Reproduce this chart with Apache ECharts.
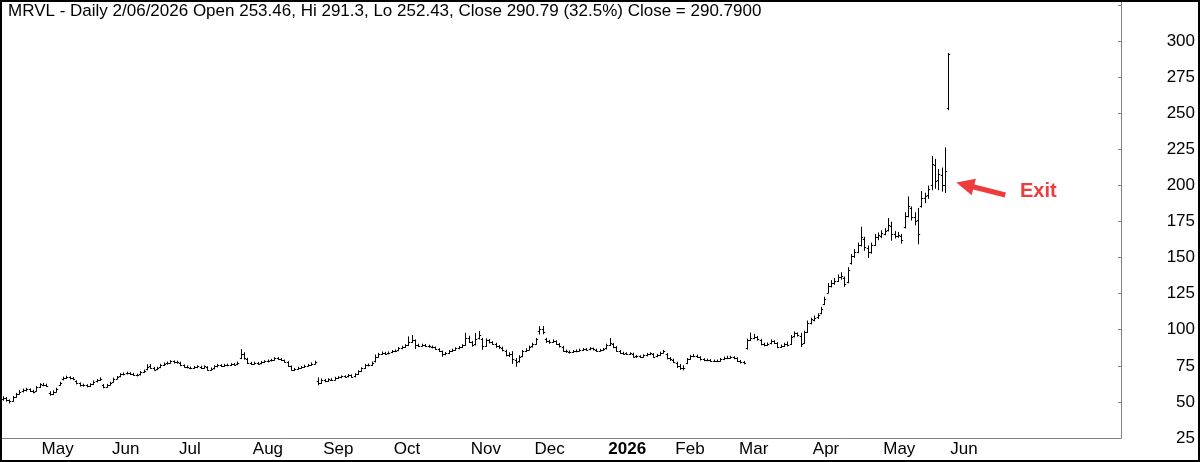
<!DOCTYPE html>
<html><head><meta charset="utf-8">
<script src="https://cdn.jsdelivr.net/npm/echarts@6/dist/echarts.min.js"></script>
<style>html,body{margin:0;padding:0;background:#fff}#c{width:1200px;height:462px}</style>
</head><body><div id="c"></div>
<script>
// Daily bars: [open, high, low, close]
const apr25 = [[52.0,53.6,51.2,52.8],[52.6,53.0,50.6,51.2],[51.0,51.4,49.2,50.4],[50.8,53.8,50.5,53.4],[53.6,55.9,53.2,55.4],[55.8,57.8,55.5,57.2],[57.4,58.9,56.9,58.3],[58.0,59.4,57.6,58.7],[58.6,59.0,57.2,57.8],[57.5,58.1,56.3,57.0],[57.8,60.6,57.5,60.2]];
const may25 = [[60.4,62.6,60.0,62.1],[62.0,62.8,61.2,61.8],[61.9,62.3,60.8,61.3],[56.5,57.0,54.6,55.4],[55.6,57.6,55.2,57.1],[57.2,59.5,56.9,59.1],[62.0,63.6,61.6,63.2],[65.8,67.2,65.3,66.6],[66.8,67.8,66.2,67.1],[67.0,67.4,65.9,66.4],[66.3,66.8,65.4,65.8],[64.2,64.6,62.5,63.0],[62.9,63.2,61.0,61.5],[61.4,62.3,60.9,61.7],[61.6,61.9,60.4,60.9],[61.0,62.6,60.7,62.2],[62.4,64.5,62.0,64.1],[64.2,65.6,63.8,65.2],[65.3,66.7,64.9,66.1],[61.8,62.0,59.8,60.4],[60.6,62.1,60.2,61.7]];
const jun25 = [[62.0,63.6,61.7,63.2],[64.0,66.5,63.7,66.1],[66.2,67.6,65.9,67.2],[67.8,69.6,67.4,69.2],[69.2,70.1,68.7,69.6],[69.7,70.6,69.3,70.1],[70.0,70.3,69.0,69.4],[69.5,69.8,68.5,68.9],[68.9,69.2,68.0,68.6],[69.0,71.0,68.7,70.6],[70.8,72.0,70.4,71.6],[72.5,75.8,72.2,74.3],[74.6,75.9,73.3,73.8],[73.5,73.9,72.0,72.4],[72.6,74.0,72.3,73.6],[74.0,76.0,73.7,75.6],[75.7,77.0,75.3,76.6],[76.7,77.6,76.2,77.1],[77.2,78.6,76.9,78.1],[78.0,78.4,77.0,77.4]];
const jul25 = [[77.3,78.2,76.8,77.6],[77.2,77.5,75.1,75.4],[75.3,75.6,74.1,74.4],[74.5,74.9,73.6,73.9],[73.8,74.1,73.0,73.4],[73.5,74.5,73.2,74.1],[74.0,75.0,73.7,74.6],[74.4,74.7,73.1,73.4],[73.6,75.0,73.3,74.6],[74.2,74.4,72.0,72.3],[72.4,73.5,72.1,73.1],[73.2,75.0,72.9,74.6],[74.7,76.0,74.3,75.6],[75.5,75.8,74.6,74.9],[75.0,76.0,74.7,75.6],[75.6,76.1,75.0,75.4],[75.5,76.5,75.2,76.1],[76.2,76.6,75.5,75.9],[76.1,77.6,75.8,77.2],[80.5,86.2,80.0,83.0],[83.0,84.0,79.6,80.6],[79.8,80.2,76.5,77.1]];
const aug25 = [[77.0,77.4,76.0,76.4],[76.5,77.5,76.2,77.1],[77.0,77.3,76.1,76.5],[76.7,78.0,76.4,77.6],[77.6,78.5,77.2,78.1],[78.0,79.0,77.7,78.6],[78.7,79.5,78.3,79.1],[79.2,80.6,78.9,80.2],[80.1,80.7,79.5,79.9],[79.8,80.0,78.6,78.9],[78.8,79.0,77.6,77.9],[77.5,77.8,74.6,75.0],[74.6,74.9,72.0,72.4],[72.3,73.2,71.8,72.7],[72.8,74.0,72.5,73.6],[73.7,74.5,73.3,74.1],[74.2,75.4,73.9,75.0],[75.1,76.0,74.8,75.6],[75.7,77.0,75.4,76.6],[76.6,78.2,76.3,77.8],[64.8,66.6,61.8,62.9]];
const sep25 = [[63.2,65.9,62.8,65.5],[65.3,65.6,64.0,64.4],[64.6,66.0,64.3,65.6],[65.4,66.1,64.9,65.3],[65.5,67.0,65.2,66.6],[66.6,67.5,66.2,67.1],[67.0,68.0,66.7,67.6],[67.7,68.1,67.0,67.4],[67.6,69.0,67.3,68.6],[68.4,68.7,67.1,67.4],[67.6,69.5,67.3,69.1],[69.3,71.5,69.0,71.1],[71.3,73.6,71.0,73.2],[73.4,76.0,73.1,75.6],[75.7,76.2,74.9,75.4],[75.6,77.6,75.3,77.2],[78.0,82.5,77.7,81.2],[81.4,83.6,81.0,83.1],[83.2,84.6,82.8,84.1],[84.0,84.3,82.9,83.4],[83.6,84.6,83.3,84.2]];
const oct25 = [[84.5,85.6,84.1,85.2],[85.2,86.0,84.8,85.6],[85.8,87.6,85.5,87.2],[87.2,88.5,86.8,88.1],[88.2,89.6,87.8,89.2],[89.4,95.0,89.0,91.4],[91.6,96.0,91.2,93.2],[92.6,92.9,86.9,89.3],[89.4,89.9,88.4,88.8],[88.9,90.0,88.6,89.6],[89.5,89.8,88.4,88.9],[88.9,89.3,87.9,88.4],[88.3,88.7,87.4,87.8],[87.7,88.0,86.4,86.8],[86.6,86.9,84.9,85.3],[85.0,85.3,81.6,83.0],[83.1,84.2,82.7,83.7],[83.8,85.6,83.5,85.2],[85.3,86.5,84.9,86.1],[86.2,87.5,85.9,87.1],[87.2,88.4,86.8,88.0],[88.0,89.6,87.6,89.2],[89.5,97.5,89.2,94.0]];
const nov25 = [[94.0,95.5,91.2,91.8],[91.5,91.9,88.6,89.4],[89.8,97.5,89.5,93.8],[94.0,98.7,93.6,96.0],[93.5,94.0,86.4,88.4],[88.8,93.6,88.5,93.0],[92.8,93.2,90.8,91.4],[91.3,91.7,89.9,90.4],[90.3,90.6,87.8,88.5],[88.4,89.0,87.0,87.8],[87.6,88.0,85.4,85.9],[85.5,85.8,81.9,82.5],[82.7,84.0,81.5,83.2],[83.0,84.8,76.7,79.4],[79.0,80.0,74.7,77.8],[78.0,82.0,77.6,81.4],[81.6,85.6,81.3,85.1],[85.2,86.8,84.9,86.2],[86.3,88.7,86.0,88.2]];
const dec25 = [[88.4,90.6,88.0,90.1],[90.2,94.0,89.9,93.6],[99.0,102.0,97.0,100.5],[100.2,102.2,97.2,98.6],[93.5,94.0,91.2,92.2],[92.0,92.6,90.6,91.4],[91.6,93.0,91.2,92.3],[92.0,92.3,89.9,90.4],[90.2,90.5,88.0,88.4],[88.2,88.4,85.0,85.6],[85.5,85.9,84.4,85.0],[84.9,85.3,83.8,84.4],[84.5,85.6,84.2,85.1],[85.0,86.0,84.7,85.6],[85.6,86.5,85.2,86.1],[86.0,87.0,85.7,86.6],[86.6,87.0,85.9,86.3],[86.4,87.6,86.1,87.1],[87.0,87.3,86.0,86.4],[86.2,86.5,85.0,85.4],[85.4,86.4,85.1,86.0],[86.1,87.0,85.8,86.6]];
const jan26 = [[87.0,90.0,86.7,89.4],[89.6,94.0,89.2,90.6],[90.2,90.5,87.6,88.2],[88.0,88.3,85.0,85.5],[85.4,85.7,83.6,84.1],[84.0,84.4,83.0,83.5],[83.6,84.0,82.9,83.3],[83.3,84.0,83.0,83.6],[83.4,83.7,81.0,81.4],[81.5,82.2,80.7,81.7],[81.6,82.0,80.8,81.2],[81.3,82.6,81.0,82.2],[82.2,83.6,81.9,83.1],[83.0,84.0,82.7,83.6],[83.2,83.5,81.0,81.4],[81.6,83.0,81.3,82.6],[82.6,84.5,82.3,84.1],[84.2,85.6,83.9,85.2],[83.0,83.4,79.8,80.4],[80.3,80.7,78.8,79.4]];
const feb26 = [[79.2,79.6,77.2,77.8],[77.0,77.5,73.8,75.0],[75.2,75.8,72.6,73.4],[73.6,75.0,72.2,73.2],[76.8,80.0,76.5,79.6],[79.8,82.2,79.5,81.6],[81.7,82.8,81.3,82.1],[82.0,82.4,80.9,81.4],[81.0,81.3,79.0,79.4],[79.5,79.9,78.5,78.9],[78.8,79.6,78.5,79.1],[79.0,79.3,78.0,78.4],[78.5,79.0,78.0,78.6],[78.6,79.0,77.9,78.3],[78.5,80.0,78.2,79.6],[79.6,81.0,79.3,80.5],[80.6,81.6,80.0,80.4],[80.5,81.6,80.2,81.1],[81.0,81.3,79.9,80.4]];
const mar26 = [[80.2,80.5,78.0,78.4],[78.3,78.7,76.9,77.4],[77.5,78.0,76.4,77.0],[87.0,93.5,86.6,92.8],[93.0,97.7,92.5,94.2],[94.4,96.8,93.8,95.2],[95.0,95.3,92.8,93.4],[93.0,93.3,89.6,90.2],[90.0,90.6,88.9,89.5],[89.6,90.8,89.2,90.3],[90.5,93.0,90.2,92.3],[92.0,92.4,90.5,91.0],[90.6,91.0,87.6,88.1],[88.2,89.4,87.8,88.6],[88.7,90.6,88.4,90.2],[90.0,91.5,88.8,89.6],[90.2,96.0,89.9,95.3],[95.5,98.5,95.0,97.6],[97.4,97.8,95.6,96.3],[95.8,97.5,88.3,90.4],[91.0,99.0,90.6,98.3],[98.6,106.0,98.2,104.6]];
const apr26 = [[104.8,108.0,104.0,107.2],[107.0,109.5,106.2,108.4],[108.5,111.0,107.8,110.2],[111.5,115.5,111.0,114.6],[118.0,122.5,117.4,121.6],[125.6,132.0,125.6,130.0],[130.5,134.0,129.6,132.4],[132.2,135.5,131.5,134.0],[134.0,138.0,133.4,136.4],[136.5,139.5,135.0,137.2],[136.0,136.5,130.0,131.6],[133.0,143.0,132.6,141.5],[146.0,152.0,145.5,150.8],[151.0,155.5,150.2,154.0],[154.0,160.0,153.4,158.6],[159.0,171.0,158.0,164.5],[163.0,164.0,155.0,157.0],[156.5,158.0,150.0,153.5],[154.0,160.0,153.0,158.6],[159.0,166.0,158.4,164.2],[164.5,167.0,162.4,165.6]];
const may26 = [[165.0,168.5,163.8,166.8],[166.5,170.0,165.8,168.6],[169.0,177.0,168.4,172.6],[172.0,174.5,162.0,166.2],[166.0,168.0,163.6,165.0],[165.2,167.4,164.0,165.8],[165.0,166.0,160.0,162.4],[171.0,181.0,170.5,178.6],[179.0,192.0,178.2,186.0],[184.0,185.0,176.0,178.2],[178.0,181.0,172.6,175.6],[176.0,184.0,159.5,166.0],[186.0,195.7,185.0,191.2],[191.0,194.5,188.0,192.4],[193.0,199.5,191.0,197.6],[200.0,220.0,197.0,215.0],[214.0,218.0,198.0,203.0],[204.0,211.0,197.0,208.0],[207.0,212.0,196.0,200.0],[200.0,226.0,195.0,210.0]];
const jun26 = [[253.46,291.3,252.43,290.79]];

const monthData = [apr25, may25, jun25, jul25, aug25, sep25, oct25, nov25, dec25, jan26, feb26, mar26, apr26, may26, jun26];
const monthLabels = ['', 'May', 'Jun', 'Jul', 'Aug', 'Sep', 'Oct', 'Nov', 'Dec', '2026', 'Feb', 'Mar', 'Apr', 'May', 'Jun'];
const yTicks = [25, 50, 75, 100, 125, 150, 175, 200, 225, 250, 275, 300];
const titleText = 'MRVL - Daily 2/06/2026 Open 253.46, Hi 291.3, Lo 252.43, Close 290.79 (32.5%) Close = 290.7900';
const exitArrow = { from: [299, 193.3], to: [287, 200.4] };
const blankSlots = 51;

const bars = [];
const tickAt = {};
let idx = 0;
monthData.forEach((m, k) => {
  tickAt[idx] = monthLabels[k];
  m.forEach(b => { bars.push([idx, b[0], b[1], b[2], b[3]]); idx++; });
});
const cats = [];
for (let i = 0; i < idx + blankSlots; i++) cats.push(String(i));

const FONT = '"Liberation Sans", Arial, sans-serif';
const RED = '#ef3b3b';

function renderOHLC(params, api) {
  const x = api.value(0);
  const o = api.coord([x, api.value(1)]);
  const h = api.coord([x, api.value(2)]);
  const l = api.coord([x, api.value(3)]);
  const c = api.coord([x, api.value(4)]);
  const w = api.size([1, 0])[0];
  const t = Math.max(1.2, w * 0.5);
  const px = Math.round(o[0]) + 0.5;
  const st = { stroke: '#000', lineWidth: 1 };
  return {
    type: 'group',
    children: [
      { type: 'line', shape: { x1: px, y1: h[1] - 0.5, x2: px, y2: l[1] + 0.5 }, style: st },
      { type: 'line', shape: { x1: px - t, y1: Math.round(o[1]) + 0.5, x2: px, y2: Math.round(o[1]) + 0.5 }, style: st },
      { type: 'line', shape: { x1: px, y1: Math.round(c[1]) + 0.5, x2: px + t, y2: Math.round(c[1]) + 0.5 }, style: st }
    ]
  };
}

const chart = echarts.init(document.getElementById('c'));
chart.setOption({
  animation: false,
  backgroundColor: '#fff',
  title: {
    text: titleText, left: 8, top: 3, padding: 0,
    textStyle: { fontFamily: FONT, fontSize: 17, fontWeight: 'normal', color: '#000' }
  },
  grid: { left: 1, right: 79, top: 1, bottom: 24, containLabel: false },
  xAxis: {
    type: 'category', data: cats, boundaryGap: true,
    axisLine: { lineStyle: { color: '#808080', width: 1 } },
    axisTick: { inside: true, length: 3, interval: (i) => tickAt[i] !== undefined && i > 0, lineStyle: { color: '#808080' } },
    axisLabel: {
      interval: (i) => tickAt[i] !== undefined && tickAt[i] !== '',
      formatter: (v, i) => tickAt[i] === '2026' ? '{b|2026}' : (tickAt[i] || ''),
      align: 'left', margin: 3, padding: [0, 0, 0, 2],
      fontFamily: FONT, fontSize: 17, color: '#000',
      rich: { b: { fontFamily: FONT, fontSize: 17, fontWeight: 'bold', color: '#000' } }
    },
    splitLine: { show: false }
  },
  yAxis: {
    type: 'value', position: 'right', min: 25, max: 327.7, interval: 25, scale: false,
    axisLine: { show: true, lineStyle: { color: '#808080', width: 1 } },
    axisTick: { show: true, inside: true, length: 3, lineStyle: { color: '#808080' } },
    axisLabel: {
      align: 'right', margin: 74, fontFamily: FONT, fontSize: 17, color: '#000',
      showMaxLabel: false,
      formatter: (v) => yTicks.indexOf(v) >= 0 ? String(v) : ''
    },
    splitLine: { show: false }
  },
  series: [
    {
      type: 'custom', renderItem: renderOHLC, data: bars,
      encode: { x: 0, y: [1, 2, 3, 4] }, clip: true, silent: true
    },
    {
      type: 'line', data: [], silent: true,
      markLine: {
        silent: true, animation: false,
        symbol: ['none', 'triangle'], symbolSize: [17, 18],
        lineStyle: { color: RED, width: 5, type: 'solid' },
        label: { show: false },
        data: [[{ coord: exitArrow.from }, { coord: exitArrow.to }]]
      }
    }
  ],
  graphic: [
    { type: 'text', left: 1020, top: 181, style: { text: 'Exit', font: 'bold 20px ' + FONT, fill: RED } },
    { type: 'rect', shape: { x: 1, y: 1, width: 1198, height: 460 }, style: { fill: 'none', stroke: '#000', lineWidth: 2 }, silent: true, z: 100 }
  ]
});
</script></body></html>
